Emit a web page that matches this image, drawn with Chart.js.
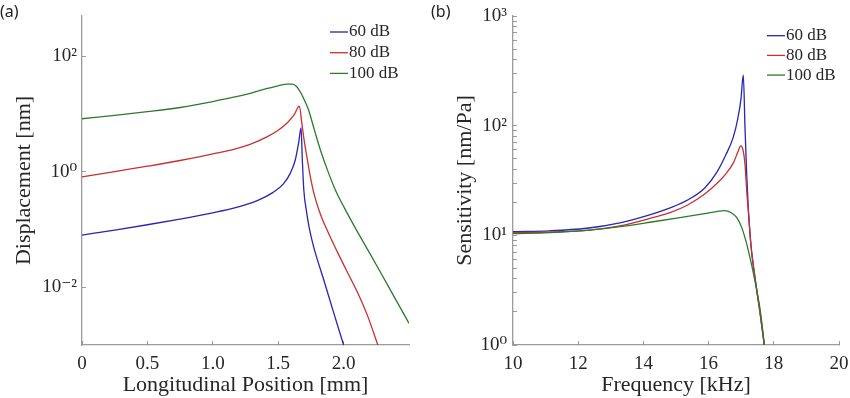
<!DOCTYPE html>
<html>
<head>
<meta charset="utf-8">
<script src="https://cdn.jsdelivr.net/npm/chart.js@4.4.0/dist/chart.umd.min.js"></script>
<style>
  body { margin: 0; background: #fff; }
  #wrap { position: relative; width: 850px; height: 398px; overflow: hidden; }
  .panel { position: absolute; top: 0; width: 425px; height: 398px; }
  .tag { position: absolute; top: 0; font: 16px "Noto Sans", sans-serif; color: #222; }
</style>
</head>
<body>
<div id="wrap">
  <div class="panel" style="left:0"><canvas id="chartA" width="425" height="398"></canvas></div>
  <div class="panel" style="left:425px"><canvas id="chartB" width="425" height="398"></canvas></div>
  <div class="tag" style="left:0">(a)</div>
  <div class="tag" style="left:431px">(b)</div>
</div>
<script>
// ---- panel (a): displacement vs longitudinal position ----
const levels = ['60 dB', '80 dB', '100 dB'];

const posA60 = [0, 0.25, 0.5, 0.75, 1.0, 1.16, 1.34, 1.458, 1.54, 1.593, 1.631, 1.656, 1.6746, 1.6845, 1.696, 1.715, 1.738, 1.771, 1.848, 1.924, 2.0];
const dispA60 = [0.080, 0.098, 0.121, 0.152, 0.195, 0.234, 0.316, 0.436, 0.617, 0.948, 1.62, 3.16, 5.75, 1.60, 0.48, 0.215, 0.105, 0.0502, 0.0135, 0.00363, 0.001];

const posA80 = [0, 0.25, 0.5, 0.75, 1.0, 1.16, 1.29, 1.41, 1.5, 1.57, 1.62, 1.662, 1.681, 1.70, 1.723, 1.746, 1.776, 1.822, 1.884, 1.953, 2.029, 2.106, 2.182, 2.262];
const dispA80 = [0.82, 1.01, 1.25, 1.57, 2.04, 2.45, 3.02, 3.98, 5.25, 7.08, 9.55, 13.7, 6.84, 3.33, 1.62, 0.819, 0.398, 0.186, 0.0869, 0.0406, 0.0182, 0.00819, 0.00326, 0.001];

const posA100 = [0, 0.25, 0.5, 0.75, 1.0, 1.16, 1.3, 1.41, 1.5, 1.57, 1.61, 1.64, 1.67, 1.70, 1.731, 1.776, 1.822, 1.876, 1.937, 2.006, 2.09, 2.182, 2.282, 2.389, 2.5];
const dispA100 = [8.3, 9.5, 11.0, 13.0, 16.5, 19.6, 23.4, 27.5, 30.9, 33.1, 33.0, 30.0, 24, 17.5, 12.0, 5.37, 2.41, 1.08, 0.486, 0.237, 0.106, 0.0458, 0.0182, 0.0067, 0.00237];

const ticksAx = [0, 0.5, 1, 1.5, 2];
const ticksAy = [0.01, 1, 100];

// ---- panel (b): sensitivity vs frequency ----
const freqB60 = [10, 11.135, 12.26, 13.28, 14.29, 14.82, 15.37, 15.89, 16.26, 16.53, 16.76, 16.90, 16.99, 17.064, 17.117, 17.169, 17.224, 17.301, 17.423, 17.577, 17.709];
const sensB60 = [10.8, 11.0, 11.6, 13.0, 15.7, 17.8, 21.1, 27.2, 37.9, 54.2, 79, 118, 172, 290, 95.5, 35.6, 16.1, 8.03, 4.11, 1.97, 1.0];

const freqB80 = [10, 11.135, 12.26, 13.28, 14.29, 14.82, 15.37, 15.89, 16.26, 16.53, 16.76, 16.90, 16.985, 17.055, 17.117, 17.178, 17.224, 17.301, 17.423, 17.577, 17.709];
const sensB80 = [10.6, 10.7, 11.1, 12.2, 14.5, 16.1, 19.0, 23.9, 29.8, 36.4, 45.8, 57.7, 65.5, 60.1, 44, 23.4, 16.1, 8.03, 4.11, 1.97, 1.0];

const freqB100 = [10, 11.135, 12.26, 13.28, 14.30, 15.12, 15.83, 16.20, 16.50, 16.72, 16.87, 17.02, 17.15, 17.27, 17.39, 17.52, 17.61, 17.71];
const sensB100 = [10.35, 10.6, 11.1, 12.0, 13.3, 14.5, 15.7, 16.4, 16.8, 15.9, 14.4, 11.7, 8.75, 6.25, 4.29, 2.7, 1.82, 1.0];

const ticksBx = [10, 12, 14, 16, 18, 20];
const ticksBy = [1, 10, 100, 1000];

const colors = ['#2626b3', '#c8302f', '#2c7a2c'];
const axisGray = '#9b9b9b';
const textColor = '#262626';
const serif = '"Liberation Serif", "DejaVu Serif", serif';

const supMap = {'-': '\u207B', '0': '\u2070', '1': '\u00B9', '2': '\u00B2', '3': '\u00B3'};
function powerLabel(v) {
  const e = String(Math.round(Math.log10(v)));
  return '10' + e.split('').map(c => supMap[c]).join('');
}

function pairs(xs, ys) {
  return xs.map((x, i) => ({x: x, y: ys[i]}));
}

// legend drawn inside the plot, top right
const sideLegend = {
  id: 'sideLegend',
  afterDraw(chart, args, opts) {
    const ctx = chart.ctx;
    ctx.save();
    ctx.font = '17px ' + serif;
    ctx.textBaseline = 'middle';
    chart.data.datasets.forEach((ds, i) => {
      const y = opts.y + i * opts.gap;
      ctx.strokeStyle = ds.borderColor;
      ctx.lineWidth = 1.3;
      ctx.beginPath();
      ctx.moveTo(opts.x, y);
      ctx.lineTo(opts.x + 18, y);
      ctx.stroke();
      ctx.fillStyle = textColor;
      ctx.fillText(ds.label, opts.x + 19, y);
    });
    ctx.restore();
  }
};

function create_chart(id, cfg) {
  const ctx = document.getElementById(id).getContext('2d');
  const datasets = cfg.series.map((s, i) => ({
    label: levels[i],
    data: s,
    borderColor: colors[i],
    backgroundColor: colors[i],
    borderWidth: 1.3,
    pointRadius: 0,
    cubicInterpolationMode: 'monotone',
    order: 2 - i
  }));

  return new Chart(ctx, {
    type: 'line',
    data: {datasets: datasets},
    plugins: [sideLegend],
    options: {
      responsive: false,
      animation: false,
      layout: {padding: {left: 0, top: 16, right: cfg.padRight, bottom: 0}},
      plugins: {
        legend: {display: false},
        tooltip: {enabled: false},
        sideLegend: cfg.legend
      },
      scales: {
        x: {
          type: 'linear',
          min: cfg.xMin,
          max: cfg.xMax,
          afterBuildTicks: scale => { scale.ticks = cfg.xTicks.map(v => ({value: v})); },
          afterFit: scale => {
            scale.height = 53;
            scale.paddingLeft = 0;
            scale.paddingRight = 0;
          },
          grid: {drawOnChartArea: false, drawTicks: true, tickLength: -4, color: axisGray, tickColor: axisGray},
          border: {display: true, color: axisGray, width: 1.3},
          ticks: {color: textColor, font: {family: serif, size: 19}, padding: 12, maxRotation: 0, autoSkip: false},
          title: {display: true, text: cfg.xTitle, color: textColor, font: {family: serif, size: 22}, padding: {top: 0, bottom: 0}}
        },
        y: {
          type: 'logarithmic',
          min: cfg.yMin,
          max: cfg.yMax,
          afterBuildTicks: scale => { scale.ticks = cfg.yTicks.map(v => ({value: v})); },
          afterFit: scale => {
            scale.width = cfg.yWidth;
            scale.paddingTop = 0;
            scale.paddingBottom = 0;
          },
          grid: {drawOnChartArea: false, drawTicks: true, tickLength: -4, color: axisGray, tickColor: axisGray},
          border: {display: true, color: axisGray, width: 1.3},
          ticks: {
            color: textColor,
            font: {family: serif, size: 19},
            padding: cfg.yPad,
            autoSkip: false,
            callback: v => (cfg.yLabels.indexOf(v) >= 0 ? powerLabel(v) : '')
          },
          title: {display: true, text: cfg.yTitle, color: textColor, font: {family: serif, size: 22}, padding: {top: cfg.yTitlePad, bottom: 0}}
        }
      }
    }
  });
}

// minor ticks for panel (b) y axis
const minorBy = [];
[1, 10, 100].forEach(d => { for (let k = 2; k <= 9; k++) minorBy.push(k * d); });

create_chart('chartA', {
  series: [pairs(posA60, dispA60), pairs(posA80, dispA80), pairs(posA100, dispA100)],
  xMin: 0, xMax: 2.5, xTicks: ticksAx,
  yMin: 0.001, yMax: 500, yTicks: ticksAy, yLabels: ticksAy,
  yWidth: 82, padRight: 16, yPad: 9, yTitlePad: 11,
  xTitle: 'Longitudinal Position [mm]',
  yTitle: 'Displacement [nm]',
  legend: {x: 330, y: 32, gap: 20.7}
});

create_chart('chartB', {
  series: [pairs(freqB60, sensB60), pairs(freqB80, sensB80), pairs(freqB100, sensB100)],
  xMin: 10, xMax: 20, xTicks: ticksBx,
  yMin: 1, yMax: 1000, yTicks: ticksBy.concat(minorBy), yLabels: ticksBy,
  yWidth: 88, padRight: 11, yPad: 10, yTitlePad: 27,
  xTitle: 'Frequency [kHz]',
  yTitle: 'Sensitivity [nm/Pa]',
  legend: {x: 342, y: 35.7, gap: 19.7}
});
</script>
</body>
</html>
